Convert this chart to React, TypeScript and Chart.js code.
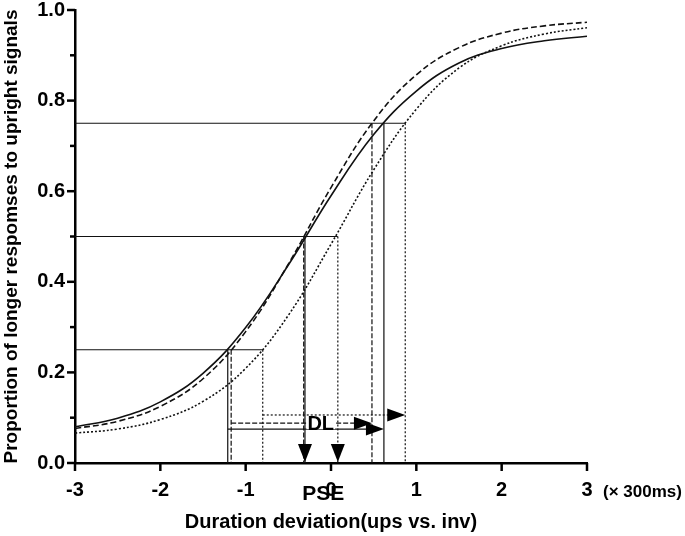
import React, { useEffect, useRef } from 'react';
import { Chart, registerables } from 'chart.js';

Chart.register(...registerables);

// ---- data ----
const xValues = [-3, -2.5, -2, -1.5, -1, -0.5, 0, 0.5, 1, 1.5, 2, 2.5, 3];
const solidCurve = [0.08, 0.099, 0.135, 0.198, 0.299, 0.437, 0.59, 0.725, 0.821, 0.883, 0.915, 0.932, 0.942];
const dashedCurve = [0.076, 0.092, 0.125, 0.186, 0.29, 0.439, 0.608, 0.755, 0.857, 0.917, 0.949, 0.965, 0.973];
const dottedCurve = [0.066, 0.075, 0.096, 0.136, 0.209, 0.326, 0.483, 0.647, 0.781, 0.872, 0.921, 0.947, 0.961];

const levels = [0.25, 0.5, 0.75];
const solidCross = [-1.21, -0.305, 0.62];
const dashedCross = [-1.17, -0.32, 0.48];
const dottedCross = [-0.8, 0.08, 0.87];
// heights of the DL arrows: solid, dashed, dotted
const dlHeights = [0.075, 0.088, 0.106];

const xTicks = [-3, -2, -1, 0, 1, 2, 3];
const yMajorTicks = [0, 0.2, 0.4, 0.6, 0.8, 1.0];
const yMinorTicks = [0.1, 0.3, 0.5, 0.7, 0.9];

const FONT = '"Liberation Sans", Arial, Helvetica, sans-serif';
const INK = '#111';

const DASHED = [6, 3];
const DOTTED = [2, 2];

function curve(values: number[], dash: number[]) {
  return {
    data: xValues.map((x, i) => ({ x, y: values[i] })),
    borderColor: INK,
    borderWidth: 1.6,
    borderDash: dash,
    pointRadius: 0,
    fill: false,
    tension: 0.4,
  };
}

function seg(x1: number, y1: number, x2: number, y2: number, dash: number[]) {
  return {
    data: [
      { x: x1, y: y1 },
      { x: x2, y: y2 },
    ],
    borderColor: INK,
    borderWidth: 1.2,
    borderDash: dash,
    pointRadius: 0,
    fill: false,
    tension: 0,
  };
}

const extras = {
  id: 'extras',
  afterDatasetsDraw(chart: any) {
    const ctx = chart.ctx as CanvasRenderingContext2D;
    const xs = chart.scales.x;
    const ys = chart.scales.y;
    const area = chart.chartArea;
    ctx.save();
    ctx.strokeStyle = '#000';
    ctx.fillStyle = '#000';
    ctx.setLineDash([]);

    // axis ticks
    ctx.lineWidth = 2.5;
    for (const t of xTicks) {
      const px = xs.getPixelForValue(t);
      ctx.beginPath();
      ctx.moveTo(px, area.bottom);
      ctx.lineTo(px, area.bottom + 8);
      ctx.stroke();
    }
    for (const t of yMajorTicks) {
      const py = ys.getPixelForValue(t);
      ctx.beginPath();
      ctx.moveTo(area.left - 8, py);
      ctx.lineTo(area.left, py);
      ctx.stroke();
    }
    for (const t of yMinorTicks) {
      const py = ys.getPixelForValue(t);
      ctx.beginPath();
      ctx.moveTo(area.left - 5, py);
      ctx.lineTo(area.left, py);
      ctx.stroke();
    }

    // down arrows at the PSEs
    const down = (v: number) => {
      const px = xs.getPixelForValue(v);
      const py = ys.getPixelForValue(0) - 1;
      ctx.beginPath();
      ctx.moveTo(px, py);
      ctx.lineTo(px - 7, py - 18);
      ctx.lineTo(px + 7, py - 18);
      ctx.closePath();
      ctx.fill();
    };
    down(solidCross[1]);
    down(dottedCross[1]);

    // right arrows for the DLs
    const right = (v: number, h: number) => {
      const px = xs.getPixelForValue(v);
      const py = ys.getPixelForValue(h);
      ctx.beginPath();
      ctx.moveTo(px, py);
      ctx.lineTo(px - 18, py - 6.5);
      ctx.lineTo(px - 18, py + 6.5);
      ctx.closePath();
      ctx.fill();
    };
    right(solidCross[2], dlHeights[0]);
    right(dashedCross[2], dlHeights[1]);
    right(dottedCross[2], dlHeights[2]);

    // DL label
    ctx.font = `bold 20px ${FONT}`;
    ctx.textAlign = 'center';
    ctx.textBaseline = 'middle';
    const dlx = xs.getPixelForValue(-0.12);
    const dly = ys.getPixelForValue(0.088);
    const w = ctx.measureText('DL').width;
    ctx.fillStyle = '#fff';
    ctx.fillRect(dlx - w / 2 - 1, dly - 6, w + 2, 12);
    ctx.fillStyle = '#000';
    ctx.fillText('DL', dlx, dly + 1);

    // PSE label
    ctx.font = `bold 21px ${FONT}`;
    ctx.fillText('PSE', xs.getPixelForValue(-0.09), area.bottom + 31);

    // unit
    ctx.font = `bold 17px ${FONT}`;
    ctx.textAlign = 'left';
    ctx.fillText('(\u00d7 300ms)', area.right + 16, area.bottom + 29);

    // axis titles
    ctx.font = `bold 20px ${FONT}`;
    ctx.textAlign = 'center';
    ctx.fillText('Duration deviation(ups vs. inv)', (area.left + area.right) / 2, area.bottom + 59);

    ctx.font = `bold 19px ${FONT}`;
    ctx.translate(12, (area.top + area.bottom) / 2);
    ctx.rotate(-Math.PI / 2);
    ctx.fillText('Proportion of longer respomses to upright signals', 0, 0);
    ctx.restore();
  },
};

export default function App() {
  const ref = useRef<HTMLCanvasElement | null>(null);

  useEffect(() => {
    if (!ref.current) return;
    const datasets: any[] = [
      curve(solidCurve, []),
      curve(dashedCurve, DASHED),
      curve(dottedCurve, DOTTED),
    ];
    levels.forEach((lv, i) => {
      datasets.push(seg(-3, lv, dottedCross[i], lv, []));
      datasets.push(seg(solidCross[i], lv, solidCross[i], 0, []));
      datasets.push(seg(dashedCross[i], lv, dashedCross[i], 0, [5, 2]));
      datasets.push(seg(dottedCross[i], lv, dottedCross[i], 0, DOTTED));
    });
    datasets.push(seg(solidCross[0], dlHeights[0], solidCross[2] - 0.1, dlHeights[0], []));
    datasets.push(seg(dashedCross[0], dlHeights[1], dashedCross[2] - 0.1, dlHeights[1], [5, 2]));
    datasets.push(seg(dottedCross[0], dlHeights[2], dottedCross[2] - 0.1, dlHeights[2], DOTTED));

    const chart = new Chart(ref.current, {
      type: 'line',
      data: { datasets },
      options: {
        animation: false,
        responsive: false,
        maintainAspectRatio: false,
        devicePixelRatio: 1,
        layout: { padding: { top: 10, right: 98, bottom: 0, left: 0 } },
        plugins: { legend: { display: false }, tooltip: { enabled: false } },
        scales: {
          x: {
            type: 'linear',
            min: -3,
            max: 3,
            afterFit: (s: any) => {
              s.height = 73;
              s.paddingLeft = 0;
              s.paddingRight = 0;
            },
            afterBuildTicks: (s: any) => {
              s.ticks = xTicks.map((v) => ({ value: v }));
            },
            ticks: {
              color: '#000',
              padding: 15,
              font: { family: FONT, size: 20, weight: 'bold' },
              callback: (v: any) => String(v),
              maxRotation: 0,
              autoSkip: false,
            },
            grid: { display: true, drawOnChartArea: false, drawTicks: false },
            border: { display: true, color: '#000', width: 2.5 },
          },
          y: {
            type: 'linear',
            min: 0,
            max: 1,
            afterFit: (s: any) => {
              s.width = 75;
              s.paddingTop = 0;
              s.paddingBottom = 0;
            },
            afterBuildTicks: (s: any) => {
              s.ticks = yMajorTicks.map((v) => ({ value: v }));
            },
            ticks: {
              color: '#000',
              padding: 10,
              font: { family: FONT, size: 20, weight: 'bold' },
              callback: (v: any) => Number(v).toFixed(1),
            },
            grid: { display: true, drawOnChartArea: false, drawTicks: false },
            border: { display: true, color: '#000', width: 2.5 },
          },
        },
      } as any,
      plugins: [extras],
    });
    return () => chart.destroy();
  }, []);

  return (
    <div style={{ position: 'fixed', left: 0, top: 0, width: 685, height: 536, background: '#fff' }}>
      <canvas ref={ref} width={685} height={536} style={{ display: 'block' }} />
    </div>
  );
}
